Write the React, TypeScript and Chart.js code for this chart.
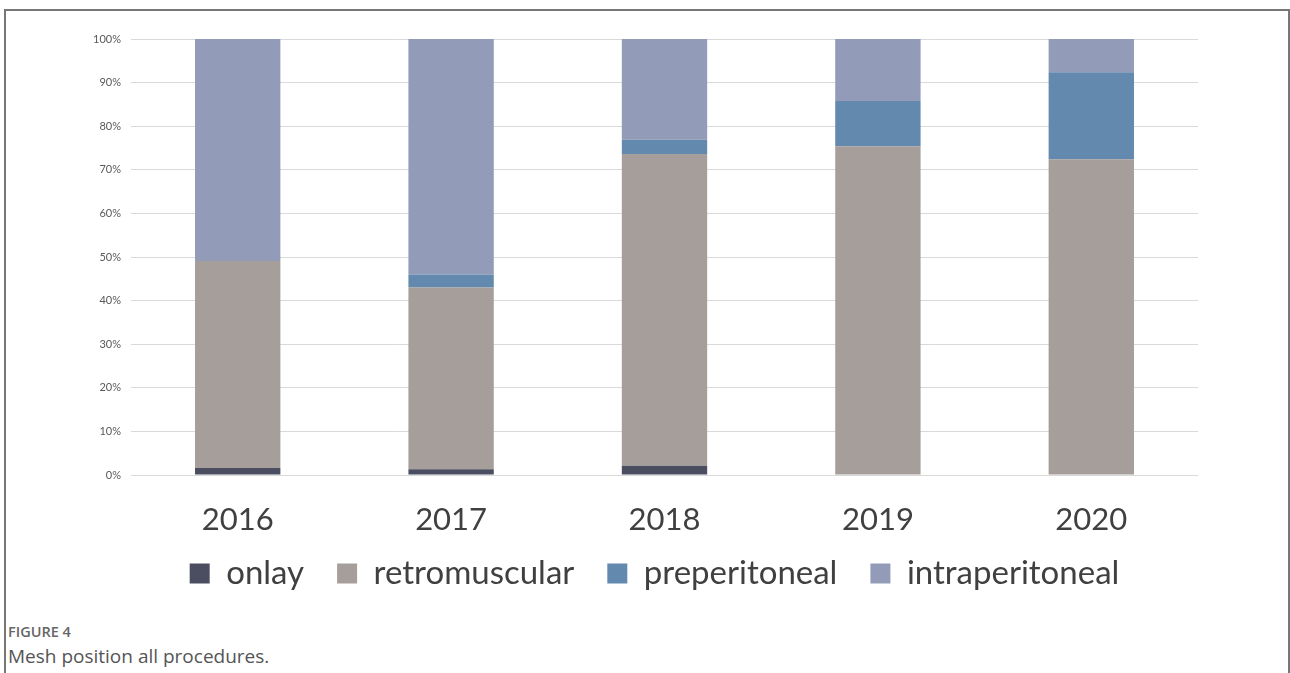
import React, { useEffect, useRef } from "react";
import { Chart, registerables, LinearScale, CategoryScale } from "chart.js";

Chart.register(...registerables);

class FreeLinear extends LinearScale {
  static id = "freeLinear";
  static defaults = (LinearScale as any).defaults;
  _computeLabelArea(): any {
    return undefined;
  }
}
class FreeCategory extends CategoryScale {
  static id = "freeCategory";
  static defaults = (CategoryScale as any).defaults;
  _computeLabelArea(): any {
    return undefined;
  }
}
Chart.register(FreeLinear as any, FreeCategory as any);

const years = ["2016", "2017", "2018", "2019", "2020"];
const onlay = [1.6, 1.3, 2.1, null, null];
const retromuscular = [47.5, 41.7, 71.5, 75.4, 72.4];
const preperitoneal = [null, 3.0, 3.3, 10.4, 20.0];
const intraperitoneal = [50.9, 54.0, 23.1, 14.2, 7.6];
const yTicks = [0, 10, 20, 30, 40, 50, 60, 70, 80, 90, 100];

const W = 1290;
const H = 612;

export default function App() {
  const ref = useRef<HTMLCanvasElement | null>(null);

  useEffect(() => {
    if (!ref.current) return;
    const chart = new Chart(ref.current, {
      type: "bar",
      data: {
        labels: years,
        datasets: [
          { label: "onlay", data: onlay, backgroundColor: "#4a4e60" },
          { label: "retromuscular", data: retromuscular, backgroundColor: "#a69e9b" },
          { label: "preperitoneal", data: preperitoneal, backgroundColor: "#6389ae" },
          { label: "intraperitoneal", data: intraperitoneal, backgroundColor: "#929cb8" },
        ],
      },
      options: {
        responsive: false,
        animation: false,
        layout: { padding: { left: 111, right: 92, top: 39, bottom: 12 } },
        datasets: { bar: { categoryPercentage: 1, barPercentage: 0.4 } },
        plugins: {
          tooltip: { enabled: false },
          legend: {
            position: "bottom",
            labels: {
              boxWidth: 20,
              boxHeight: 20,
              padding: 33,
              color: "#404040",
              font: { family: "Lato", size: 33 },
            },
          },
        },
        scales: {
          x: {
            type: "freeCategory" as any,
            stacked: true,
            grid: { display: false, drawTicks: false },
            border: { display: false },
            ticks: {
              color: "#404040",
              padding: 26,
              font: { family: "Lato", size: 31 },
            },
            afterFit: (s: any) => {
              s.height = 49;
            },
          },
          y: {
            type: "freeLinear" as any,
            stacked: true,
            min: 0,
            max: 100,
            afterBuildTicks: (s: any) => {
              s.ticks = yTicks.map((v) => ({ value: v }));
            },
            grid: { color: "#d9d9d9", lineWidth: 1, drawTicks: false },
            border: { display: false },
            ticks: {
              color: "#595959",
              padding: 10,
              font: { family: "Lato", size: 11 },
              callback: (v: any) => v + "%",
            },
            afterFit: (s: any) => {
              s.width = 20;
            },
          },
        },
      },
    });
    return () => chart.destroy();
  }, []);

  return (
    <div style={{ position: "absolute", left: 0, top: 0, width: W, height: 673, overflow: "hidden", background: "#fff" }}>
      <div
        style={{
          position: "absolute",
          left: 4,
          top: 9,
          width: 1282,
          height: 700,
          border: "2px solid #777",
          borderBottom: "none",
        }}
      />
      <canvas ref={ref} width={W} height={H} style={{ position: "absolute", left: 0, top: 0, width: W, height: H }} />
      <div
        style={{
          position: "absolute",
          left: 8,
          top: 622,
          fontFamily: "'Open Sans', sans-serif",
          fontSize: 14.5,
          fontWeight: 600,
          color: "#666",
        }}
      >
        FIGURE 4
      </div>
      <div
        style={{
          position: "absolute",
          left: 8,
          top: 643,
          fontFamily: "'Open Sans', sans-serif",
          fontSize: 19,
          color: "#555",
        }}
      >
        Mesh position all procedures.
      </div>
    </div>
  );
}
